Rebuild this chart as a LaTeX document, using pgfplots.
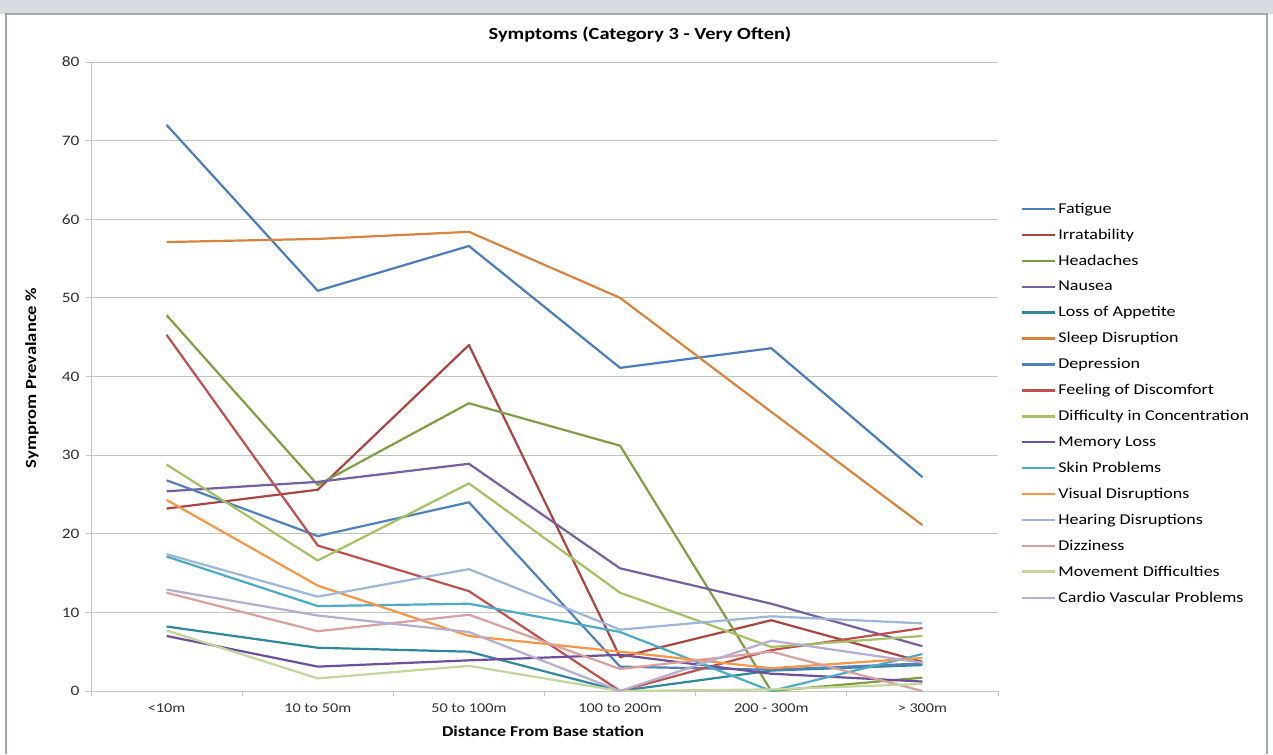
\documentclass[border=0pt]{standalone}
\usepackage{fontspec}
\setmainfont{Carlito}[FakeStretch=1.2]
\usepackage{pgfplots}
\pgfplotsset{compat=1.18}

\definecolor{cFat}{HTML}{4A7DBA}
\definecolor{cIrr}{HTML}{AC4542}
\definecolor{cHea}{HTML}{7F9F45}
\definecolor{cNau}{HTML}{7560A0}
\definecolor{cLoa}{HTML}{31889C}
\definecolor{cSle}{HTML}{D9843E}
\definecolor{cDep}{HTML}{4F81BD}
\definecolor{cFee}{HTML}{C0504D}
\definecolor{cDif}{HTML}{A4C263}
\definecolor{cMem}{HTML}{6E4F9A}
\definecolor{cSki}{HTML}{4BACC6}
\definecolor{cVis}{HTML}{F79646}
\definecolor{cHer}{HTML}{9DB6DA}
\definecolor{cDiz}{HTML}{D9A09E}
\definecolor{cMov}{HTML}{C3D69B}
\definecolor{cCar}{HTML}{B7ADD0}
\definecolor{bandgray}{HTML}{D4DCDF}
\definecolor{framegray}{HTML}{A0A8AE}
\definecolor{gridgray}{HTML}{C4C4C4}

\begin{document}
\begin{tikzpicture}[x=1pt,y=1pt]
  \fill[white] (0,0) rectangle (1273,754);
  \fill[bandgray] (0,740) rectangle (1273,754);
  \draw[framegray,line width=1.5pt] (6,0) -- (6,740) -- (1267,740) -- (1267,0);

  \node[font=\fontsize{17}{19}\selectfont\bfseries] at (640,719) {Symptoms (Category 3 - Very Often)};
  \node[font=\fontsize{15.5}{17}\selectfont\bfseries,rotate=90] at (32,376) {Symprom Prevalance \%};
  \node[font=\fontsize{15}{17}\selectfont\bfseries] at (543,23) {Distance From Base station};

  \begin{axis}[
      at={(91pt,63pt)}, anchor=south west,
      scale only axis, width=907pt, height=629pt,
      xmin=-0.5, xmax=5.5, ymin=0, ymax=80,
      ytick={0,10,...,80},
      xtick={0,...,5},
      xticklabels={{<10m},{10 to 50m},{50 to 100m},{100 to 200m},{200 - 300m},{> 300m}},
      minor xtick={-0.5,0.5,...,5.5},
      major x tick style={draw=none},
      tick align=outside,
      major tick length=5pt, minor tick length=5pt,
      every tick/.style={gridgray, line width=0.8pt},
      axis x line*=bottom, axis y line*=left,
      axis line style={gridgray, line width=0.8pt, -},
      ymajorgrids, major grid style={gridgray, line width=0.8pt},
      /pgf/number format/assume math mode=true,
      tick label style={font=\fontsize{13.5}{15}\selectfont, text=black!80},
      yticklabel style={font=\fontsize{14.5}{16}\selectfont, xshift=-3pt},
      xticklabel style={yshift=-4pt},
      legend style={at={(1.022,0.782)}, anchor=north west, draw=none, fill=none,
        font=\fontsize{15}{17}\selectfont, row sep=10.1pt,
        cells={anchor=west}},
      legend image code/.code={\draw[#1] (0pt,0pt) -- (33pt,0pt);},
      every axis plot/.append style={line width=2.2pt, line join=round},
    ]
    % Fatigue
    \addplot[cFat] coordinates {(0,72.0) (1,50.9) (2,56.6) (3,41.1) (4,43.6) (5,27.2)};
    % Irratability
    \addplot[cIrr] coordinates {(0,23.2) (1,25.6) (2,44.0) (3,4.3) (4,9.0) (5,3.7)};
    % Headaches
    \addplot[cHea] coordinates {(0,47.8) (1,26.2) (2,36.6) (3,31.2) (4,0) (5,1.7)};
    % Nausea
    \addplot[cNau] coordinates {(0,25.4) (1,26.6) (2,28.9) (3,15.6) (4,11.1) (5,5.7)};
    % Loss of Appetite
    \addplot[cLoa] coordinates {(0,8.2) (1,5.5) (2,5.0) (3,0) (4,2.6) (5,3.3)};
    % Sleep Disruption
    \addplot[cSle] coordinates {(0,57.1) (1,57.5) (2,58.4) (3,50.0) (4,35.5) (5,21.1)};
    % Depression
    \addplot[cDep] coordinates {(0,26.8) (1,19.7) (2,24.0) (3,3.1) (4,2.7) (5,3.5)};
    % Feeling of Discomfort
    \addplot[cFee] coordinates {(0,45.3) (1,18.5) (2,12.7) (3,0) (4,5.2) (5,8.0)};
    % Difficulty in Concentration
    \addplot[cDif] coordinates {(0,28.8) (1,16.6) (2,26.4) (3,12.5) (4,5.6) (5,7.0)};
    % Memory Loss
    \addplot[cMem] coordinates {(0,7.0) (1,3.1) (2,3.9) (3,4.6) (4,2.2) (5,1.2)};
    % Skin Problems
    \addplot[cSki] coordinates {(0,17.1) (1,10.8) (2,11.1) (3,7.5) (4,0) (5,4.7)};
    % Visual Disruptions
    \addplot[cVis] coordinates {(0,24.3) (1,13.4) (2,7.0) (3,5.0) (4,2.9) (5,4.2)};
    % Hearing Disruptions
    \addplot[cHer] coordinates {(0,17.4) (1,12.0) (2,15.5) (3,7.8) (4,9.5) (5,8.6)};
    % Dizziness
    \addplot[cDiz] coordinates {(0,12.5) (1,7.6) (2,9.7) (3,2.8) (4,5.0) (5,0)};
    % Movement Difficulties
    \addplot[cMov] coordinates {(0,7.7) (1,1.6) (2,3.2) (3,0) (4,0.2) (5,0.9)};
    % Cardio Vascular Problems
    \addplot[cCar] coordinates {(0,12.9) (1,9.6) (2,7.5) (3,0) (4,6.4) (5,3.6)};

    \legend{Fatigue, Irratability, Headaches, Nausea, Loss of Appetite, Sleep Disruption,
      Depression, Feeling of Discomfort, Difficulty in Concentration, Memory Loss,
      Skin Problems, Visual Disruptions, Hearing Disruptions, Dizziness,
      Movement Difficulties, Cardio Vascular Problems}
  \end{axis}
\end{tikzpicture}
\end{document}
